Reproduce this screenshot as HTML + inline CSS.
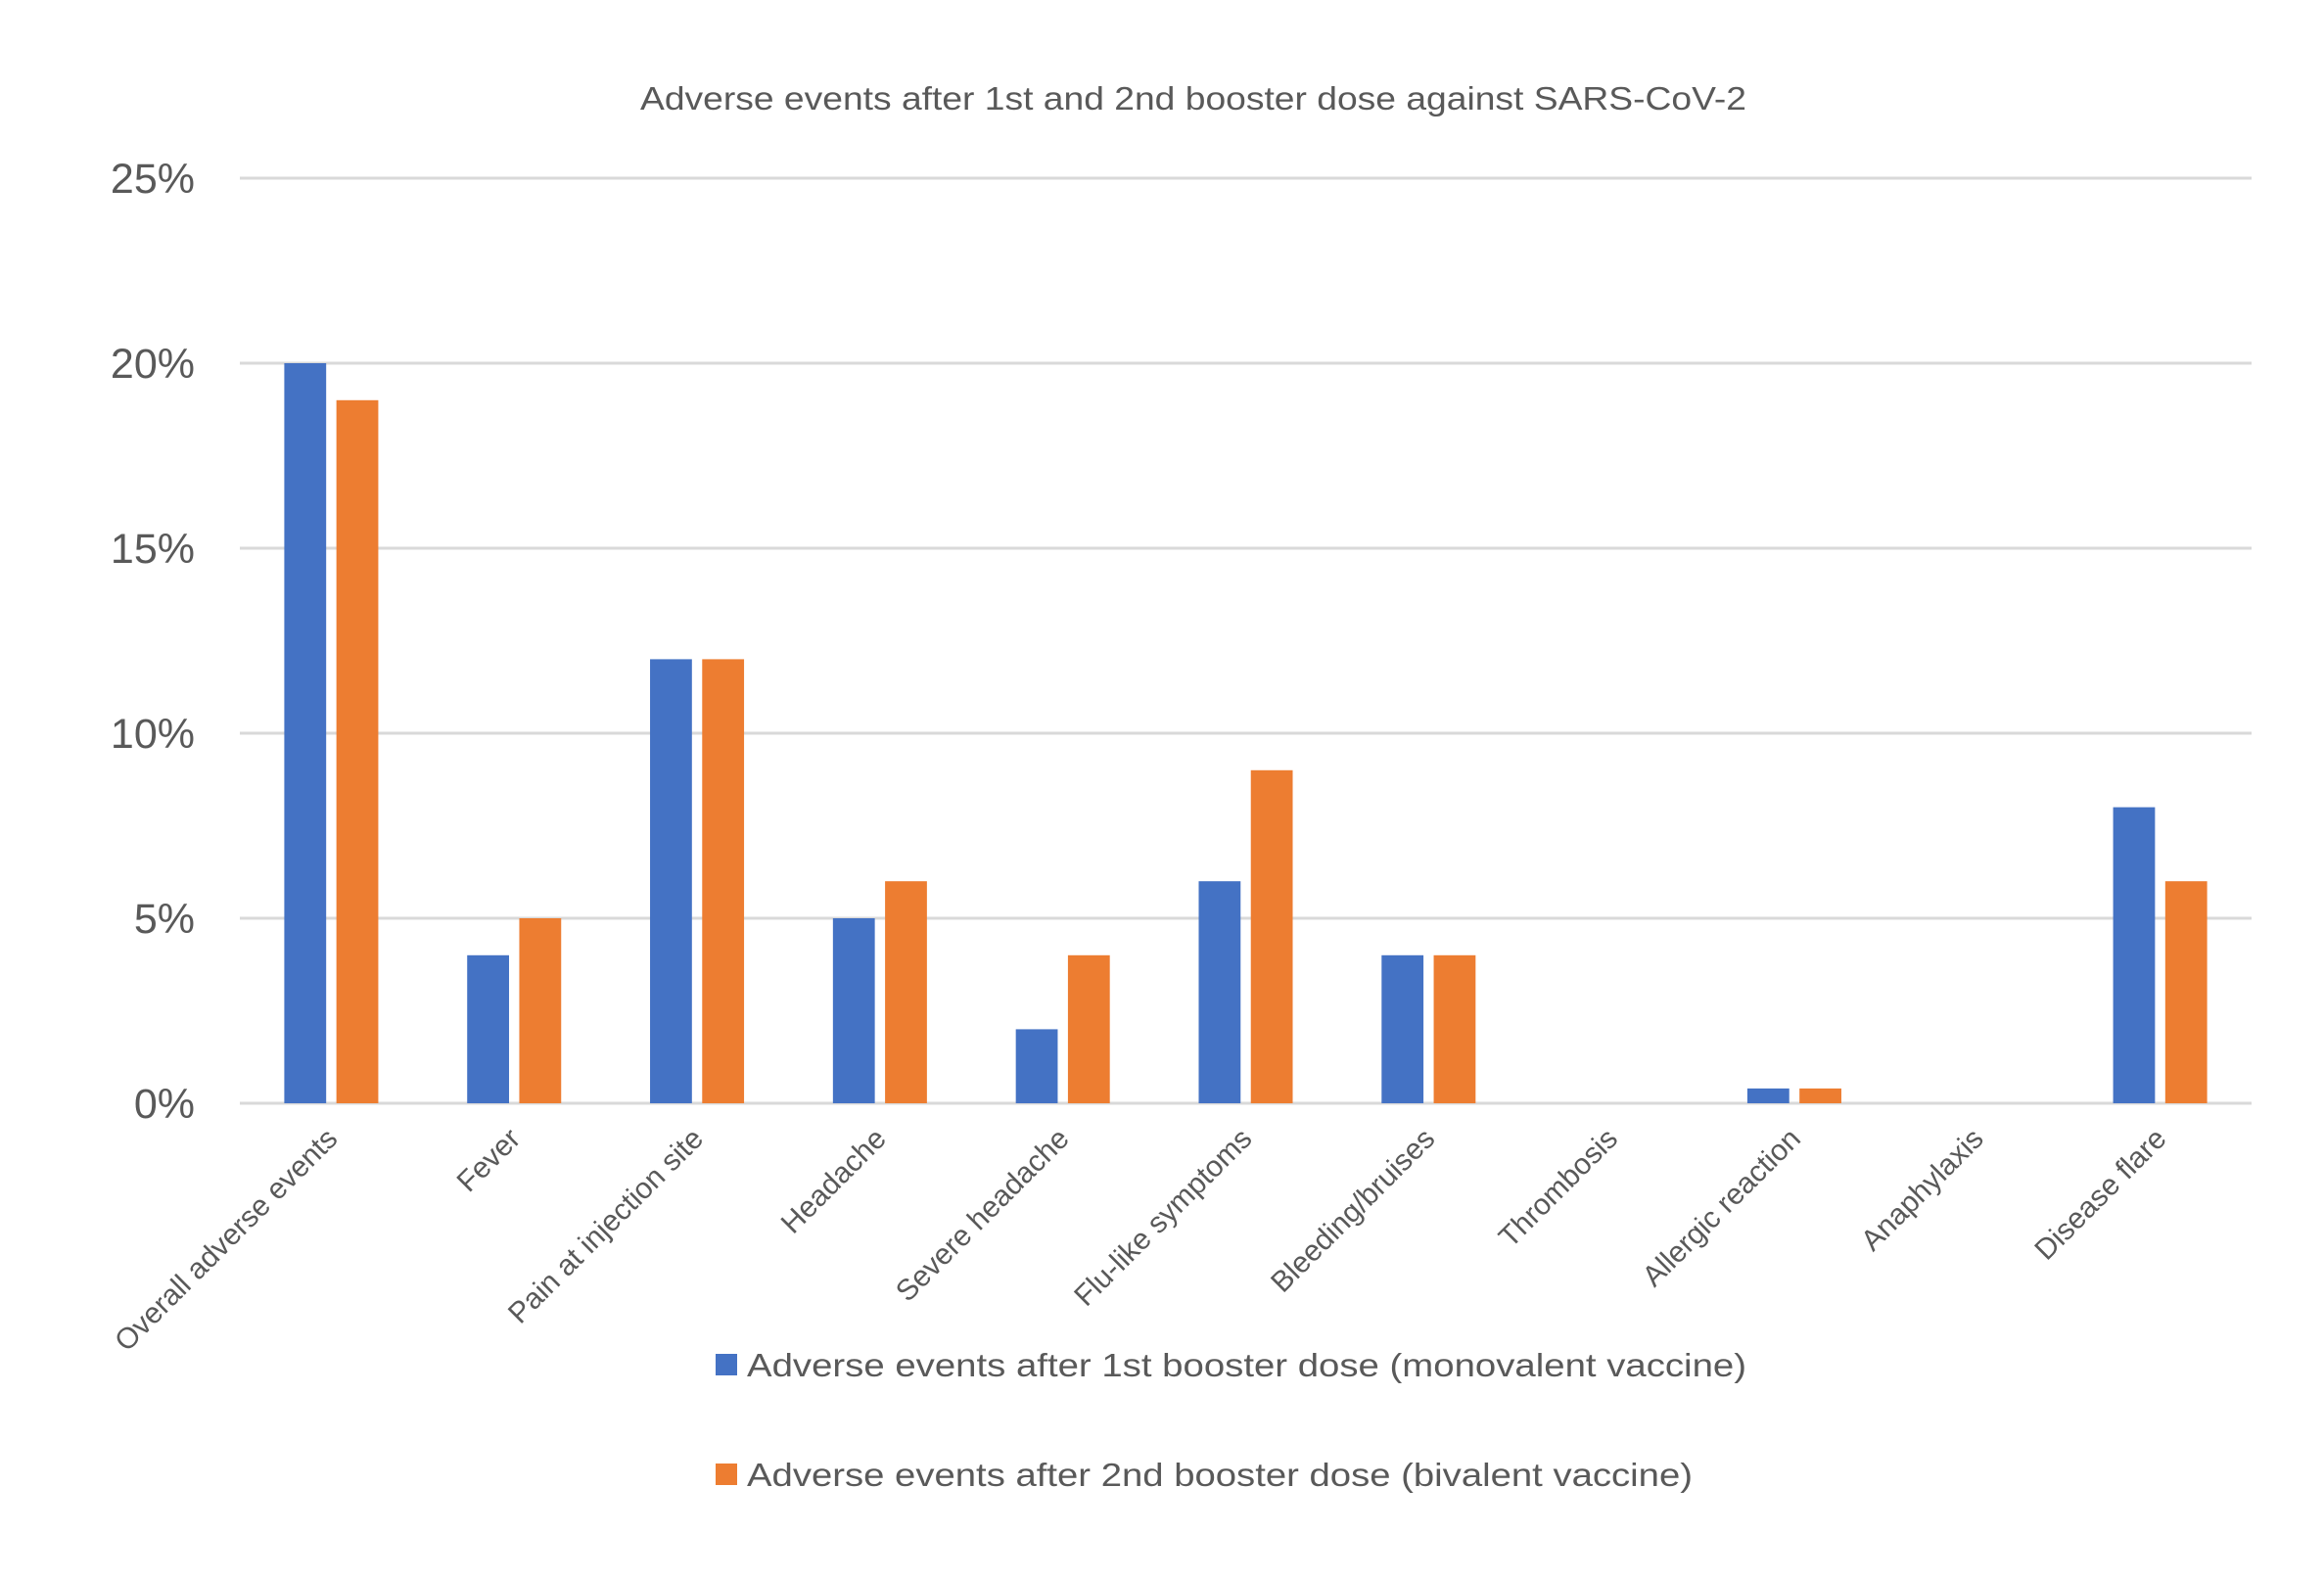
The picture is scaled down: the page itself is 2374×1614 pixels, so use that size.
<!DOCTYPE html>
<html><head><meta charset="utf-8"><style>
html,body{margin:0;padding:0;background:#fff;}
svg{display:block;font-family:"Liberation Sans",sans-serif;}
</style></head><body>
<svg id="chart" width="2374" height="1614" viewBox="0 0 2374 1614" xmlns="http://www.w3.org/2000/svg">
<rect width="2374" height="1614" fill="#fff"/>
<text x="1219" y="112" text-anchor="middle" font-size="33" fill="#595959" textLength="1130" lengthAdjust="spacingAndGlyphs">Adverse events after 1st and 2nd booster dose against SARS-CoV-2</text>
<g id="grid"></g><g id="bars"></g><g id="xlabels"></g>
<g>
<rect x="731" y="1383" width="22" height="22" fill="#4472C4"/>
<text x="763" y="1406" font-size="33" fill="#595959" textLength="1021" lengthAdjust="spacingAndGlyphs">Adverse events after 1st booster dose (monovalent vaccine)</text>
<rect x="731" y="1495" width="22" height="22" fill="#ED7D31"/>
<text x="763" y="1518" font-size="33" fill="#595959" textLength="966" lengthAdjust="spacingAndGlyphs">Adverse events after 2nd booster dose (bivalent vaccine)</text>
</g>
</svg>
<script>
const categories=["Overall adverse events","Fever","Pain at injection site","Headache","Severe headache","Flu-like symptoms","Bleeding/bruises","Thrombosis","Allergic reaction","Anaphylaxis","Disease flare"];
const firstBooster=[20,4,12,5,2,6,4,0,0.4,0,8];
const secondBooster=[19,5,12,6,4,9,4,0,0.4,0,6];
const yTicks=[0,5,10,15,20,25];
const yTickLabels=["0%","5%","10%","15%","20%","25%"];
const NS="http://www.w3.org/2000/svg";
const X0=245,X1=2300,Y0=1127,Y1=182,YMAX=25;
const bandW=(X1-X0)/categories.length;
function y(v){return Y0-(v/YMAX)*(Y0-Y1);}
function bandX(i){return X0+i*bandW;}
function mk(t,a){const e=document.createElementNS(NS,t);for(const k in a)e.setAttribute(k,a[k]);return e;}
const grid=document.getElementById('grid');
yTicks.forEach((t,i)=>{
  const l=mk('line',{x1:X0,x2:X1,y1:y(t),y2:y(t),stroke:'#D9D9D9','stroke-width':3});
  
  
  grid.appendChild(l);
  const tx=mk('text',{x:199,y:y(t)+15,'text-anchor':'end','font-size':43,fill:'#595959'});
  tx.textContent=yTickLabels[i];
  
  
  grid.appendChild(tx);
});
const bars=document.getElementById('bars');
const bw=bandW*0.229,gap=bandW*0.056;
categories.forEach((c,i)=>{
  const cx=bandX(i)+bandW/2;
  const b1=mk('rect',{x:cx-gap/2-bw,y:y(firstBooster[i]),width:bw,height:Y0-y(firstBooster[i]),fill:'#4472C4'});
  
  
  bars.appendChild(b1);
  const b2=mk('rect',{x:cx+gap/2,y:y(secondBooster[i]),width:bw,height:Y0-y(secondBooster[i]),fill:'#ED7D31'});
  
  
  bars.appendChild(b2);
  const tx=mk('text',{x:0,y:0,'text-anchor':'end','font-size':30,fill:'#595959',transform:'translate('+(cx+8)+',1165) rotate(-45)'});
  tx.textContent=c;
  
  
  document.getElementById('xlabels').appendChild(tx);
});
</script>
</body></html>
